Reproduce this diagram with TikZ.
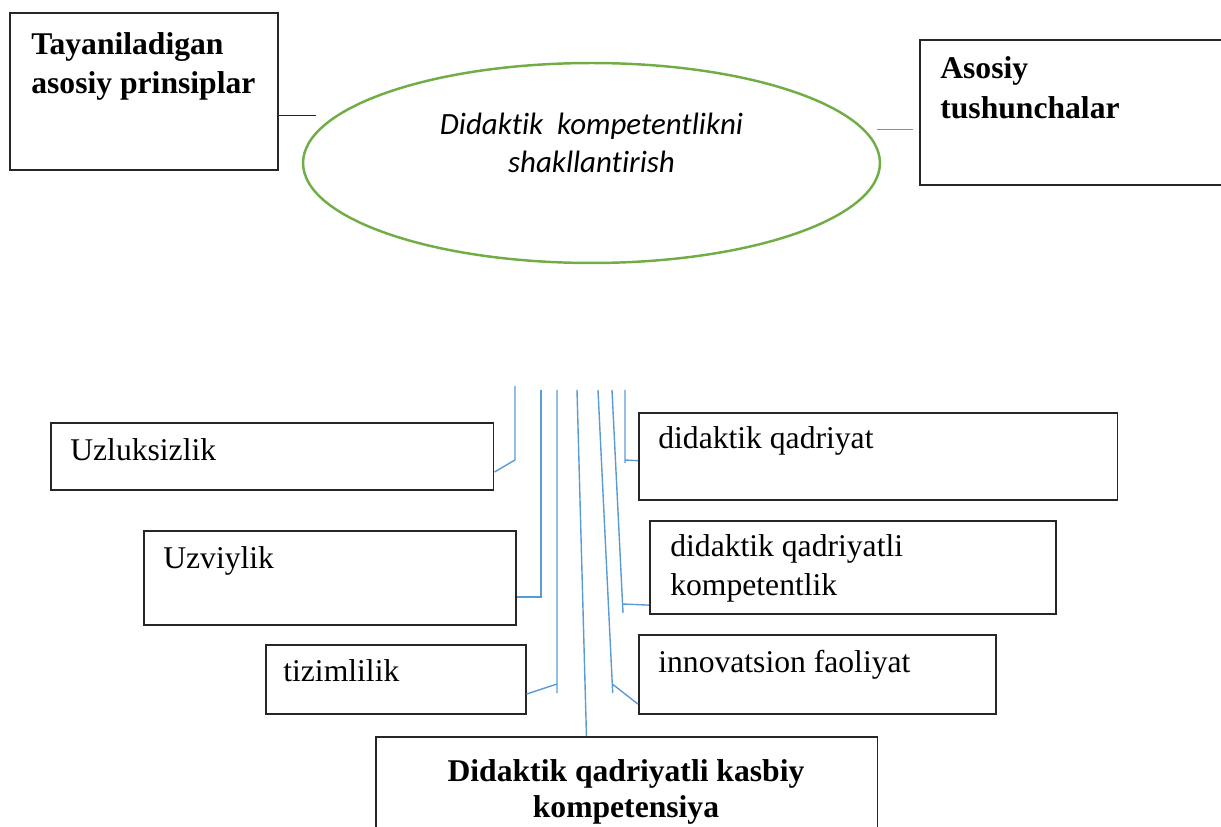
\documentclass[tikz,border=0pt]{standalone}
\usepackage{fontspec}
\setmainfont{Liberation Serif}
\newfontfamily\calibri[Ligatures=NoCommon]{Carlito}
\usetikzlibrary{shapes.geometric,calc}
\definecolor{wordgreen}{RGB}{112,173,71}
\definecolor{wordblue}{RGB}{91,155,213}
\tikzset{
	box/.style={draw=black!85, line width=0.9pt, anchor=north west, inner sep=0pt},
	lbl/.style={anchor=base west, inner sep=0pt, align=left, font=\fontsize{18}{21.7}\selectfont},
	head/.style={lbl, font=\fontsize{18}{22.7}\selectfont\bfseries},
	link/.style={draw=wordblue, line width=0.8pt},
}
\begin{document}
\begin{tikzpicture}[x=0.02cm, y=-0.02cm]
	\clip (0,0) rectangle (1221,827);
	\node[box, minimum width=5.36cm, minimum height=3.14cm] at (9,12)(tay){};
	\node[head] at (31,94)(taytxt){Tayaniladigan\\asosiy prinsiplar};
	\node[box, minimum width=6.22cm, minimum height=2.9cm] at (919,39)(aso){};
	\node[head] at (940,118.3)(asotxt){Asosiy\\tushunchalar};
	\node[ellipse, draw=wordgreen, line width=1.4pt, minimum width=11.54cm, minimum height=4cm, inner sep=0pt] at (591.5,163)(goal){};
	\node[anchor=base, inner sep=0pt, align=center, font=\calibri\itshape\fontsize{17.6}{21.8}\selectfont] at (591.5,173)(goaltxt){Didaktik~~kompetentlikni\\shakllantirish};
	\coordinate (l1) at (316,115.3);
	\coordinate (r1) at (877,129.5);
	\draw[black!85, line width=0.7pt] (l1) -- (l1 -| tay.east);
	\draw[link] (r1) -- ([xshift=-0.12cm]r1 -| aso.west);

	\node[box, minimum width=8.86cm, minimum height=1.34cm] at (50,422)(uzl){};
	\node[lbl] at (70,460.7)(uzltxt){Uzluksizlik};
	\node[box, minimum width=7.44cm, minimum height=1.88cm] at (143,530)(uzv){};
	\node[lbl] at (163,568)(uzvtxt){Uzviylik};
	\node[box, minimum width=5.2cm, minimum height=1.38cm] at (265,644)(tiz){};
	\node[lbl] at (283,681)(tiztxt){tizimlilik};
	\node[box, minimum width=9.58cm, minimum height=1.74cm] at (638,412)(dq){};
	\node[lbl] at (658,449)(dqtxt){didaktik qadriyat};
	\node[box, minimum width=8.12cm, minimum height=1.86cm] at (649,520)(dqk){};
	\node[lbl] at (670,595)(dqktxt){didaktik qadriyatli\\kompetentlik};
	\node[box, minimum width=7.14cm, minimum height=1.58cm] at (638,634)(inn){};
	\node[lbl] at (658,672)(inntxt){innovatsion faoliyat};
	\node[box, minimum width=10.04cm, minimum height=2.2cm] at (375,736)(kas){};
	\node[head, anchor=base, align=center, font=\fontsize{18}{20.8}\selectfont\bfseries] at (626,817.7)(kastxt){Didaktik qadriyatli kasbiy\\kompetensiya};

	\coordinate (t1) at (515,386);
	\coordinate (t2) at (541,390);
	\coordinate (t3) at (557,390);
	\coordinate (t4) at (577,390);
	\coordinate (t5) at (598,390);
	\coordinate (t6) at (612,390);
	\coordinate (t7) at (625,390);
	\draw[link] (t1) -- ++(0,74) -- ($(uzl.north east)!0.73!(uzl.south east)$);
	\draw[link] (t2) |- ($(uzv.north east)!0.7!(uzv.south east)$);
	\draw[link] (t3) -- ++(0,303) ++(0,-9) -- ($(tiz.north east)!0.71!(tiz.south east)$);
	\draw[link] (t4) -- ($(kas.north west)!0.42!(kas.north east)$);
	\draw[link] (t5) -- ++(14.7,303) ++(-0.4,-9) -- ($(inn.north west)!0.87!(inn.south west)$);
	\draw[link] (t6) -- ++(11,223) ++(-0.5,-9) -- ($(dqk.north west)!0.9!(dqk.south west)$);
	\draw[link] (t7) -- ++(0,73) ++(0,-3) -- ($(dq.north west)!0.55!(dq.south west)$);
\end{tikzpicture}
\end{document}
